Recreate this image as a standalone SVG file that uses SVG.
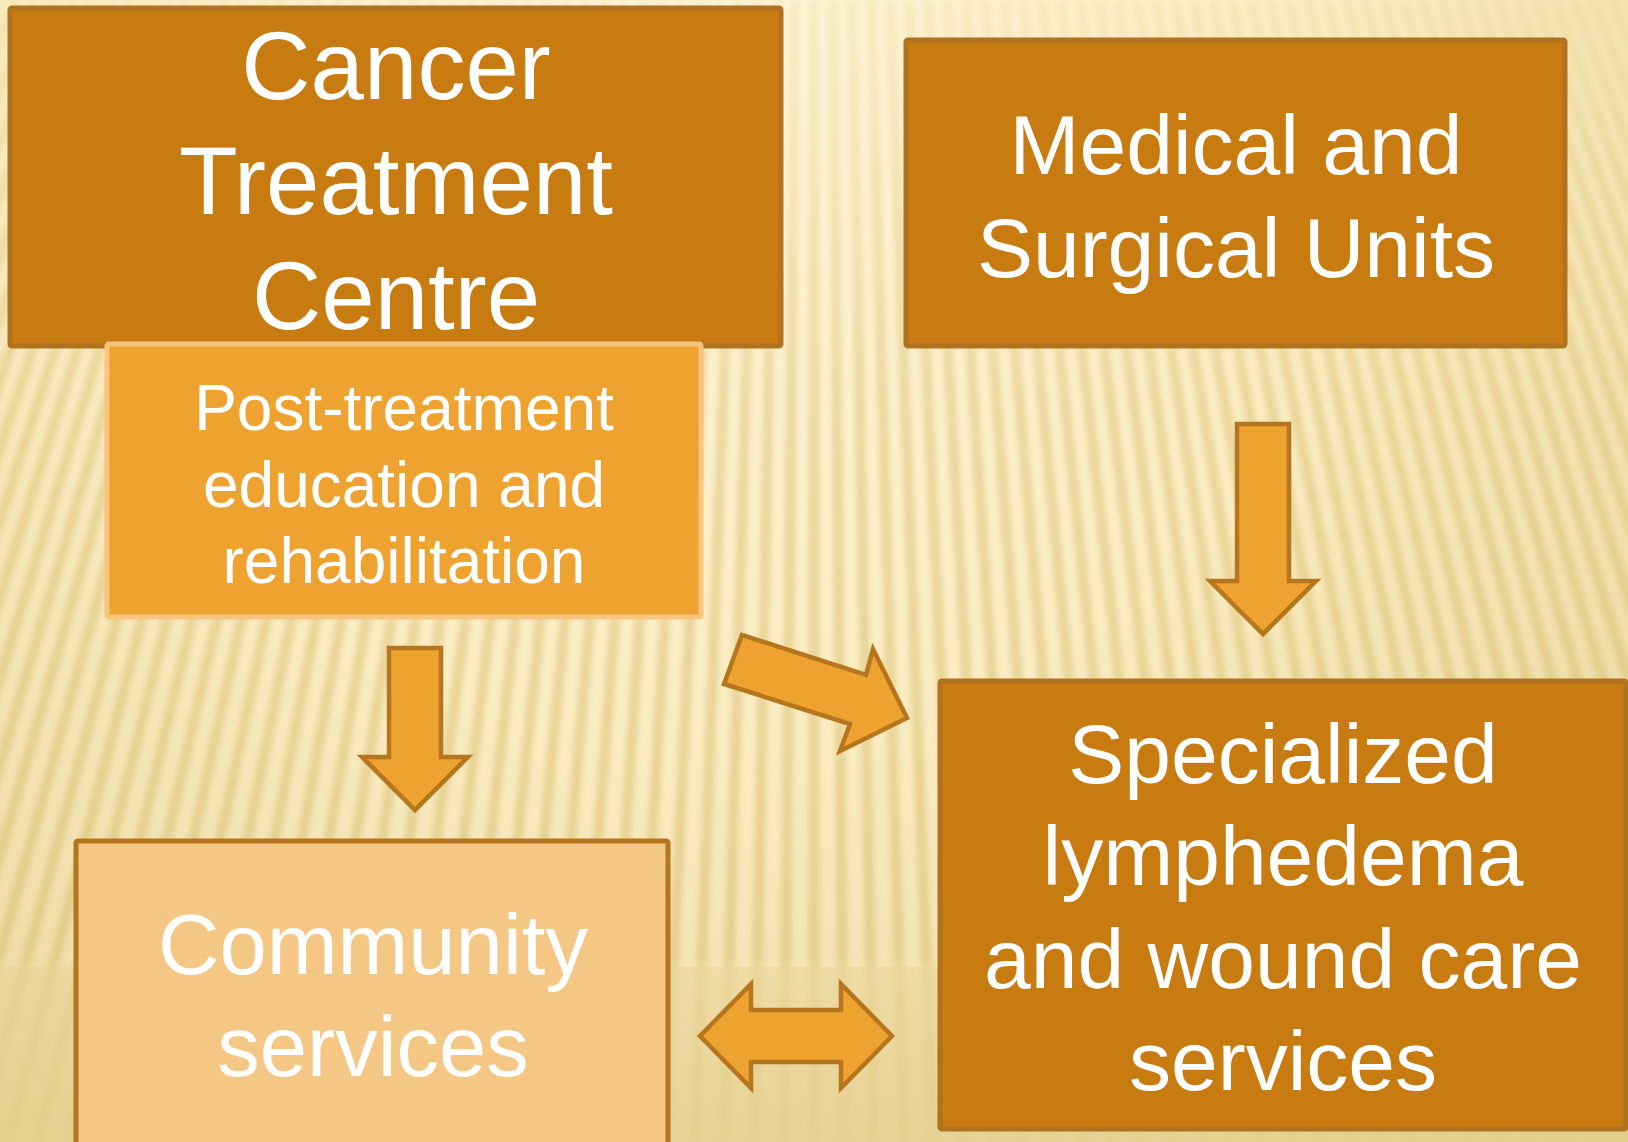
<svg xmlns="http://www.w3.org/2000/svg" width="1628" height="1142" viewBox="0 0 1628 1142">
  <defs>
    <radialGradient id="bgGrad" cx="700" cy="60" r="1500" gradientUnits="userSpaceOnUse">
      <stop offset="0" stop-color="#FFF6D9"/>
      <stop offset="0.45" stop-color="#FBEDC3"/>
      <stop offset="0.8" stop-color="#EEDCA6"/>
      <stop offset="1" stop-color="#E6D194"/>
    </radialGradient>
    <linearGradient id="stripeFade" x1="0" y1="0" x2="0" y2="1142" gradientUnits="userSpaceOnUse">
      <stop offset="0" stop-color="#fff" stop-opacity="0.3"/>
      <stop offset="0.35" stop-color="#fff" stop-opacity="0.85"/>
      <stop offset="0.84" stop-color="#fff" stop-opacity="1"/>
      <stop offset="0.85" stop-color="#fff" stop-opacity="0.5"/>
      <stop offset="1" stop-color="#fff" stop-opacity="0.45"/>
    </linearGradient>
    <mask id="stripeMask" maskUnits="userSpaceOnUse" x="0" y="0" width="1628" height="1142">
      <rect x="0" y="0" width="1628" height="1142" fill="url(#stripeFade)"/>
    </mask>
    <linearGradient id="floorGrad" x1="0" y1="967" x2="0" y2="1142" gradientUnits="userSpaceOnUse">
      <stop offset="0" stop-color="#E3CC88" stop-opacity="0.35"/>
      <stop offset="1" stop-color="#E0C880" stop-opacity="0.5"/>
    </linearGradient>
    <filter id="soft" x="-5%" y="-5%" width="110%" height="110%">
      <feGaussianBlur stdDeviation="3.2"/>
    </filter>
    <style>
      .dark { fill: #C77B10; stroke: #B0721F; stroke-width: 5; }
      .mid { fill: #EEA330; stroke: #F7C57E; stroke-width: 5; }
      .light { fill: #F5C785; stroke: #B5751F; stroke-width: 5; }
      .arrow { fill: #EEA330; stroke: #B5761E; stroke-width: 4.5; stroke-linejoin: miter; }
      .label { fill: #FFFFFF; font-family: "Liberation Sans", Arial, sans-serif; text-anchor: middle; }
      .stripes { fill: none; stroke: #D6B966; stroke-width: 10; stroke-opacity: 0.55; }
    </style>
  </defs>

  <!-- backdrop: warm cream wash with a fan of soft vertical pleats -->
  <g id="background">
    <rect x="0" y="0" width="1628" height="1142" fill="url(#bgGrad)"/>
    <g mask="url(#stripeMask)">
      <path class="stripes" filter="url(#soft)" d="
        M-3 0 L-470 1142 M16 0 L-440 1142 M35 0 L-410 1142 M54 0 L-380 1142 M73 0 L-350 1142
        M92 0 L-320 1142 M111 0 L-290 1142 M130 0 L-261 1142 M149 0 L-231 1142 M168 0 L-201 1142
        M187 0 L-171 1142 M206 0 L-141 1142 M225 0 L-111 1142 M244 0 L-82 1142 M263 0 L-52 1142
        M282 0 L-22 1142 M301 0 L8 1142 M320 0 L38 1142 M339 0 L68 1142 M358 0 L98 1142
        M377 0 L127 1142 M396 0 L157 1142 M415 0 L187 1142 M434 0 L217 1142 M453 0 L247 1142
        M472 0 L277 1142 M491 0 L307 1142 M510 0 L336 1142 M529 0 L366 1142 M548 0 L396 1142
        M567 0 L426 1142 M586 0 L456 1142 M605 0 L486 1142 M624 0 L515 1142 M643 0 L545 1142
        M662 0 L575 1142 M681 0 L605 1142 M700 0 L635 1142 M719 0 L665 1142 M738 0 L695 1142
        M757 0 L724 1142 M776 0 L754 1142 M795 0 L784 1142 M814 0 L814 1142 M833 0 L844 1142
        M852 0 L874 1142 M871 0 L904 1142 M890 0 L933 1142 M909 0 L963 1142 M928 0 L993 1142
        M947 0 L1023 1142 M966 0 L1053 1142 M985 0 L1083 1142 M1004 0 L1113 1142 M1023 0 L1142 1142
        M1042 0 L1172 1142 M1061 0 L1202 1142 M1080 0 L1232 1142 M1099 0 L1262 1142 M1118 0 L1292 1142
        M1137 0 L1321 1142 M1156 0 L1351 1142 M1175 0 L1381 1142 M1194 0 L1411 1142 M1213 0 L1441 1142
        M1232 0 L1471 1142 M1251 0 L1501 1142 M1270 0 L1530 1142 M1289 0 L1560 1142 M1308 0 L1590 1142
        M1327 0 L1620 1142 M1346 0 L1650 1142 M1365 0 L1680 1142 M1384 0 L1710 1142 M1403 0 L1739 1142
        M1422 0 L1769 1142 M1441 0 L1799 1142 M1460 0 L1829 1142 M1479 0 L1859 1142 M1498 0 L1889 1142
        M1517 0 L1918 1142 M1536 0 L1948 1142 M1555 0 L1978 1142 M1574 0 L2008 1142 M1593 0 L2038 1142
        M1612 0 L2068 1142 M1631 0 L2098 1142"/>
    </g>
    <rect x="0" y="967" width="1628" height="175" fill="url(#floorGrad)"/>
  </g>

  <!-- connectors -->
  <g id="connectors">
    <polygon id="arrow-medical-to-specialized" class="arrow"
      points="1237,424 1289,424 1289,581 1316,581 1263,634 1210,581 1237,581"/>
    <polygon id="arrow-post-to-community" class="arrow"
      points="389,648 441,648 441,757 468,757 415,810 362,757 389,757"/>
    <polygon id="arrow-post-to-specialized" class="arrow"
      points="742,635 866,675 873,649 907,718 840,751 850,724 724,684"/>
    <polygon id="arrow-community-specialized" class="arrow"
      points="700,1036 751,984 751,1010 841,1010 841,984 892,1036 841,1088 841,1062 751,1062 751,1088"/>
  </g>

  <g id="cancer-treatment-centre">
    <rect class="dark" x="10" y="8" width="771" height="338" rx="2"/>
    <text class="label" font-size="96" x="396" y="99">Cancer</text>
    <text class="label" font-size="96" x="396" y="214">Treatment</text>
    <text class="label" font-size="96" x="396" y="329">Centre</text>
  </g>

  <g id="post-treatment">
    <rect class="mid" x="107" y="344" width="594" height="273" rx="2"/>
    <text class="label" font-size="64" x="404" y="430">Post-treatment</text>
    <text class="label" font-size="64" x="404" y="507">education and</text>
    <text class="label" font-size="64" x="404" y="583">rehabilitation</text>
  </g>

  <g id="medical-surgical-units">
    <rect class="dark" x="906" y="40" width="659" height="306" rx="2"/>
    <text class="label" font-size="84" x="1236" y="174">Medical and</text>
    <text class="label" font-size="84" x="1236" y="277">Surgical Units</text>
  </g>

  <g id="community-services">
    <rect class="light" x="76" y="841" width="592" height="320" rx="2"/>
    <text class="label" font-size="85" x="373" y="974">Community</text>
    <text class="label" font-size="85" x="373" y="1076">services</text>
  </g>

  <g id="specialized-lymphedema">
    <rect class="dark" x="940" y="681" width="686" height="448" rx="2"/>
    <text class="label" font-size="84" x="1283" y="783">Specialized</text>
    <text class="label" font-size="84" x="1283" y="885">lymphedema</text>
    <text class="label" font-size="84" x="1283" y="988">and wound care</text>
    <text class="label" font-size="84" x="1283" y="1090">services</text>
  </g>
</svg>
